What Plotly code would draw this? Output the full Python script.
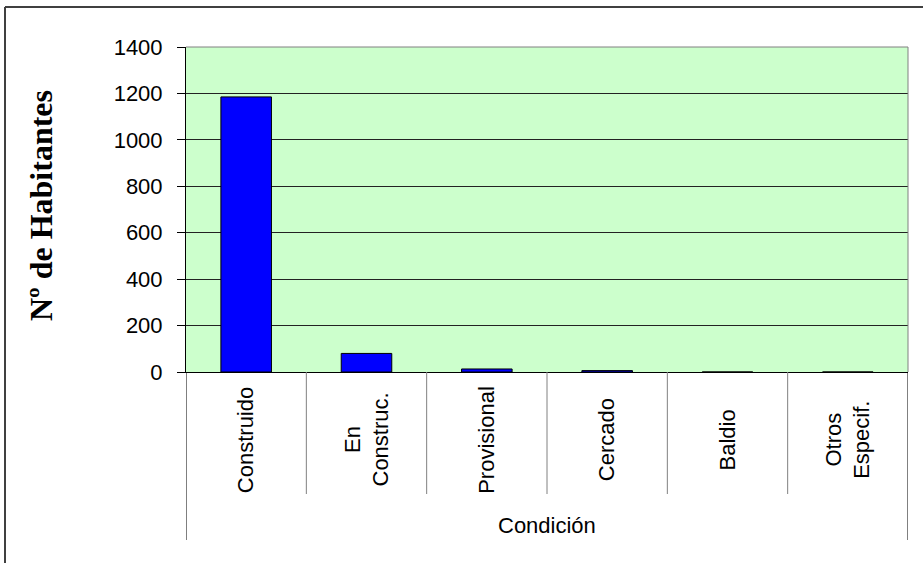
import plotly.graph_objects as go

categories = ["Construido", "En<br>Construc.", "Provisional", "Cercado", "Baldio", "Otros<br>Especif."]
habitantes = [1185, 80, 13, 6, 0, 0]
y_ticks = [0, 200, 400, 600, 800, 1000, 1200, 1400]

W, H = 923, 563
L, R, T, B = 186, 15, 47, 191
plot_w = W - L - R
plot_h = H - T - B


def py(px):
    # pixel row -> paper y
    return (H - B - px) / plot_h


x_pos = list(range(len(categories)))

fig = go.Figure()
fig.add_trace(
    go.Bar(
        x=x_pos,
        y=habitantes,
        width=0.42,
        marker={"color": "#0000FF", "line": {"color": "#000000", "width": 1}},
        hoverinfo="y",
    )
)

# category separators under the axis (Excel style)
shapes = []
for i in range(len(categories) - 1):
    shapes.append(dict(type="line", xref="x", yref="paper", x0=i + 0.5, x1=i + 0.5,
                       y0=0, y1=py(494), line={"color": "#808080", "width": 1}))
for xb in (-0.5, len(categories) - 0.5):
    shapes.append(dict(type="line", xref="x", yref="paper", x0=xb, x1=xb,
                       y0=0, y1=py(540), line={"color": "#000000", "width": 1}))
# plot area top / right border
shapes.append(dict(type="line", xref="paper", yref="paper", x0=0, x1=1, y0=1, y1=1,
                   line={"color": "#808080", "width": 1}))
shapes.append(dict(type="line", xref="paper", yref="paper", x0=1, x1=1, y0=0, y1=1,
                   line={"color": "#808080", "width": 1}))
# outer chart frame (top and left)
fx = (5 - L) / plot_w
shapes.append(dict(type="line", xref="paper", yref="paper", x0=fx, x1=1.05, y0=py(7), y1=py(7),
                   line={"color": "#404040", "width": 2}))
shapes.append(dict(type="line", xref="paper", yref="paper", x0=fx, x1=fx, y0=py(7), y1=py(570),
                   line={"color": "#404040", "width": 2}))

annotations = [
    dict(text="<b>Nº de Habitantes</b>", xref="paper", yref="paper",
         x=(41 - L) / plot_w, y=py(206), textangle=-90,
         xanchor="center", yanchor="middle", showarrow=False,
         font={"family": "Liberation Serif, Times New Roman", "size": 32, "color": "#000000"}),
    dict(text="Condición", xref="paper", yref="paper", x=0.5, y=py(525),
         xanchor="center", yanchor="middle", showarrow=False,
         font={"size": 22, "color": "#000000"}),
]
for xi, label in zip(x_pos, categories):
    annotations.append(
        dict(text=label, xref="x", yref="paper", x=xi, y=py(440), textangle=-90,
             xanchor="center", yanchor="middle", align="center", showarrow=False,
             font={"size": 22, "color": "#000000"})
    )

fig.update_layout(
    width=W,
    height=H,
    margin={"l": L, "r": R, "t": T, "b": B},
    paper_bgcolor="#FFFFFF",
    plot_bgcolor="#CCFFCC",
    showlegend=False,
    shapes=shapes,
    annotations=annotations,
    font={"family": "Liberation Sans, Arial", "size": 22, "color": "#000000"},
)

fig.update_xaxes(
    range=[-0.5, len(categories) - 0.5],
    showticklabels=False,
    ticks="",
    showgrid=False,
    showline=True,
    linecolor="#000000",
    linewidth=1,
    zeroline=False,
)
fig.update_yaxes(
    range=[0, 1400],
    tickvals=y_ticks,
    ticks="outside",
    ticklen=8,
    tickcolor="#000000",
    showgrid=True,
    gridcolor="#222222",
    gridwidth=1,
    showline=True,
    linecolor="#000000",
    linewidth=1,
    zeroline=False,
    ticklabelstandoff=10,
    tickfont={"size": 22},
)

fig.write_html(
    "out.html",
    config={"displayModeBar": False},
    post_script="document.body.style.margin='0';",
)
